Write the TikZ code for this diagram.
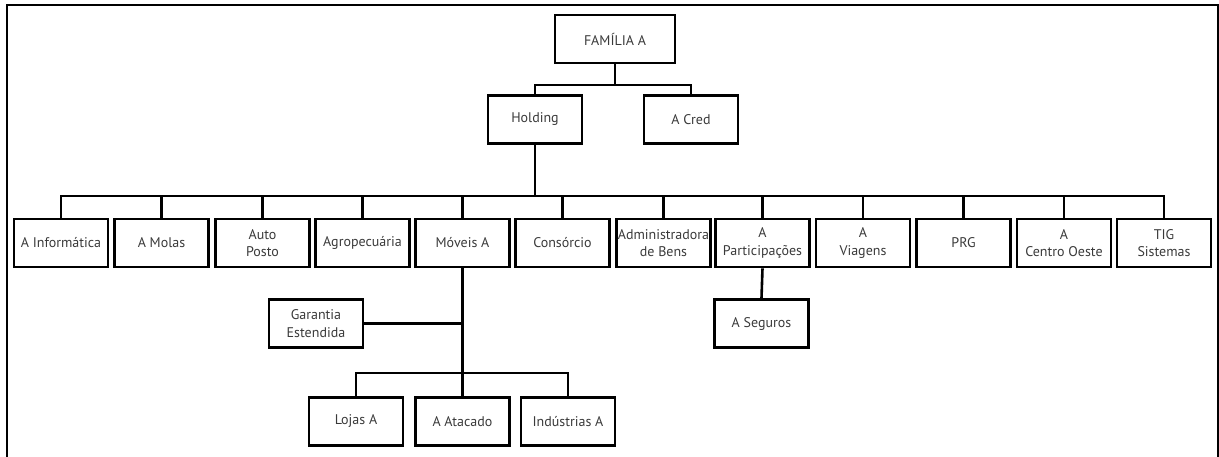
\documentclass[tikz,border=0pt]{standalone}
\usepackage{fontspec}
\setmainfont{PT Sans}
\definecolor{txt}{HTML}{3A3A3A}
\begin{document}
\begin{tikzpicture}[x=1pt,y=-1pt,
  orgbox/.style={draw=black, line width=2.6pt, minimum width=94pt, minimum height=48pt,
    inner sep=0pt, align=center, text=txt, font=\fontsize{14}{17.5}\selectfont},
  link/.style={line width=2.6pt, draw=black}]
\useasboundingbox (0,0) rectangle (1219,457);
% outer frame, open at the bottom
\draw[line width=2pt] (7,457) -- (7,5) -- (1218,5) -- (1218,457);

% top levels
\node[orgbox, minimum width=120pt] (fam) at (615,39) {FAMÍLIA A};
\node[orgbox] (hold) at (535,119.5) {Holding};
\node[orgbox] (cred) at (691,119.5) {A Cred};

% companies under the holding
\node[orgbox] (inf)  at (61,243)    {A Informática};
\node[orgbox] (mol)  at (161.5,243) {A Molas};
\node[orgbox] (auto) at (262.5,243) {Auto\\Posto};
\node[orgbox] (agro) at (362.5,243) {Agropecuária};
\node[orgbox] (mov)  at (462.5,243) {Móveis A};
\node[orgbox] (cons) at (562.5,243) {Consórcio};
\node[orgbox] (adm)  at (663.5,243) {Administradora\\de Bens};
\node[orgbox] (part) at (762.5,243) {A\\Participações};
\node[orgbox] (viag) at (863,243)   {A\\Viagens};
\node[orgbox] (prg)  at (963.5,243) {PRG};
\node[orgbox] (cen)  at (1064,243)  {A\\Centro Oeste};
\node[orgbox] (tig)  at (1164,243)  {TIG\\Sistemas};

% lower levels
\node[orgbox] (gar) at (316,323.5)   {Garantia\\Estendida};
\node[orgbox] (seg) at (761.5,323.5) {A Seguros};
\node[orgbox] (loj) at (356,421.5)   {Lojas A};
\node[orgbox] (ata) at (462.5,421.5) {A Atacado};
\node[orgbox] (ind) at (568,421.5)   {Indústrias A};

% junction points of the branches
\coordinate (j1) at (615,85);
\coordinate (j2) at (535,196);
\coordinate (j3) at (462.5,373);

\draw[link] (fam.south) -- (j1);
\draw[link] (hold.north) |- (j1);
\draw[link] (cred.north) |- (j1);

\draw[link] (hold.south) -- (j2);
\foreach \n in {inf,mol,auto,agro,mov,cons,adm,part,viag,prg,cen,tig}
  \draw[link] (\n.north) |- (j2);

\draw[link] (mov.south) -- (j3);
\draw[link] (gar.east) -- (gar.east -| mov.south);
\foreach \n in {loj,ata,ind}
  \draw[link] (\n.north) |- (j3);

\draw[link] (part.south) -- (seg.north);
\end{tikzpicture}
\end{document}
